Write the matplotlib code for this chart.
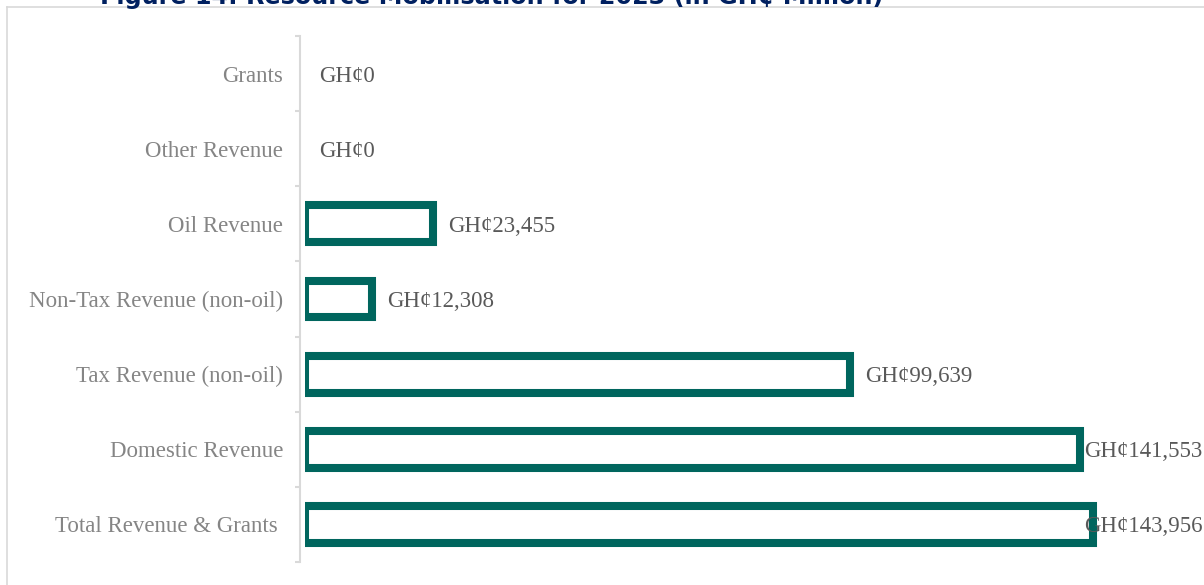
import numpy as np
import matplotlib
matplotlib.use("Agg")
import matplotlib.pyplot as plt
from matplotlib.lines import Line2D

# data (GH¢ million), top to bottom as shown
categories = ["Grants", "Other Revenue", "Oil Revenue", "Non-Tax Revenue (non-oil)",
              "Tax Revenue (non-oil)", "Domestic Revenue", "Total Revenue & Grants "]
values = [0, 0, 23455, 12308, 99639, 141553, 143956]
value_labels = ["GH¢0", "GH¢0", "GH¢23,455", "GH¢12,308", "GH¢99,639",
                "GH¢141,553", "GH¢143,956"]
title = "Figure 14: Resource Mobilisation for 2023 (in GH¢ Million)"

TEAL = "#00665E"
GREY_AX = "#D9D9D9"

W, H = 1204, 585
fig = plt.figure(figsize=(W / 100, H / 100), dpi=100)

# outer frame (only top and left visible in the crop)
fig.add_artist(Line2D([7 / W, 7 / W], [0, (H - 7) / H], color=GREY_AX, lw=1.2))
fig.add_artist(Line2D([7 / W, 1], [(H - 7) / H, (H - 7) / H], color=GREY_AX, lw=1.2))

fig.text(100 / W, (H - 4) / H, title, fontsize=17.2, fontweight="bold",
         color="#002060", family="DejaVu Sans", va="baseline", ha="left")

ax = fig.add_axes([305 / W, 23 / H, (W - 305) / W, 526 / H])
ax.set_facecolor("none")

y = np.arange(len(categories))
px_per_unit = 788 / 143956
ax.set_xlim(0, (W - 305) / px_per_unit)
ax.set_ylim(len(categories) - 0.5, -0.5)

lws = [0 if v == 0 else 5.8 for v in values]
ax.barh(y, values, height=0.49, facecolor="white", edgecolor=TEAL, linewidth=lws)

xmax = ax.get_xlim()[1]
for yi, v, lab in zip(y, values, value_labels):
    if v > 135000:
        # label pushed inside the plot edge, as in the source
        ax.text(xmax - 250, yi, lab, ha="right", va="center_baseline", fontsize=16.5,
                family="Liberation Serif", color="#595959")
    else:
        ax.annotate(lab, (v, yi), xytext=(10.4, 0), textcoords="offset points",
                    ha="left", va="center_baseline", fontsize=16.5,
                    family="Liberation Serif", color="#595959")

for s in ["top", "right", "bottom"]:
    ax.spines[s].set_visible(False)
ax.spines["left"].set_position(("outward", 3.6))
ax.spines["left"].set_color(GREY_AX)
ax.spines["left"].set_linewidth(1.5)
ax.set_xticks([])

ax.set_yticks(y)
ax.set_yticklabels(categories, fontsize=16.5, family="Liberation Serif", color="#858585")
ax.tick_params(axis="y", which="major", length=0, pad=12)
ax.set_yticks(np.arange(len(categories) + 1) - 0.5, minor=True)
ax.tick_params(axis="y", which="minor", length=3.6, width=1.5, color=GREY_AX)

fig.savefig("out.png", dpi=100)
